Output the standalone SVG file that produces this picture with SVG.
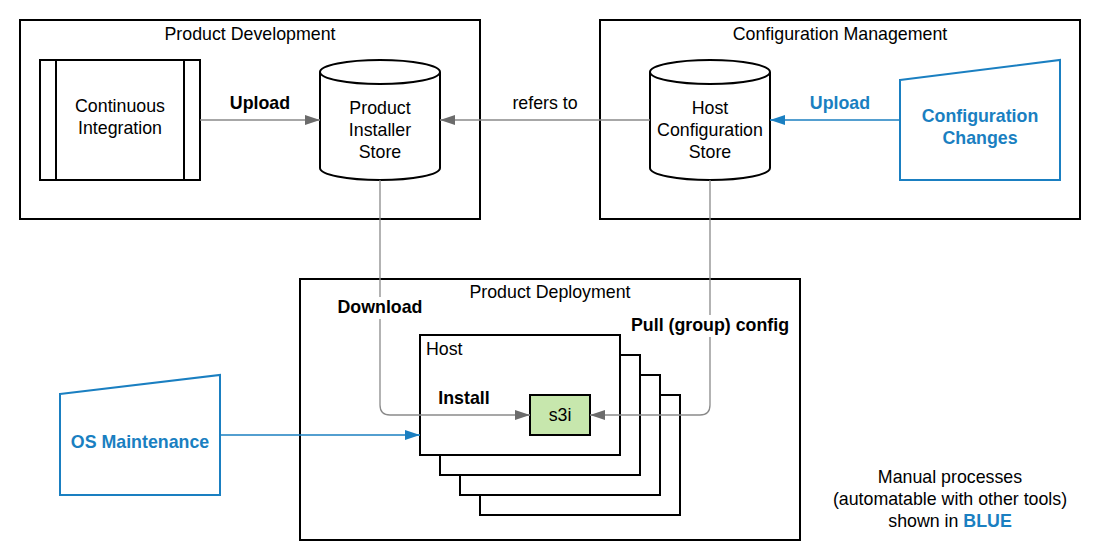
<svg xmlns="http://www.w3.org/2000/svg" width="1098" height="560" viewBox="0 0 1098 560">
<style>
text{font-family:"Liberation Sans",Arial,sans-serif;font-size:17.8px;fill:#000}
.c{text-anchor:middle}
.b{font-weight:bold}
.blue{fill:#1a7fc1}
.box{fill:#fff;stroke:#000;stroke-width:2}
.mshape{fill:#fff;stroke:#1a7fc1;stroke-width:2}
.line{fill:none;stroke:#8a8a8a;stroke-width:1.3}
.bline{fill:none;stroke:#1a7fc1;stroke-width:1.3}
.lbl{fill:#fff;stroke:none}
</style>
<defs>
<marker id="ag" markerUnits="userSpaceOnUse" markerWidth="16" markerHeight="10" refX="15" refY="5" orient="auto"><path d="M0,0 L15,5 L0,10 z" fill="#6b6b6b"/></marker>
<marker id="ab" markerUnits="userSpaceOnUse" markerWidth="16" markerHeight="10" refX="15" refY="5" orient="auto"><path d="M0,0 L15,5 L0,10 z" fill="#1a7fc1"/></marker>
</defs>
<rect width="1098" height="560" fill="#fff"/>

<g id="product-development">
<rect class="box" x="20" y="20" width="460" height="199"/>
<text class="c" x="250" y="40">Product Development</text>
</g>
<g id="configuration-management">
<rect class="box" x="600" y="20" width="480" height="199"/>
<text class="c" x="840" y="40">Configuration Management</text>
</g>
<g id="product-deployment">
<rect class="box" x="300" y="279" width="500" height="261"/>
<text class="c" x="550" y="298">Product Deployment</text>
</g>

<g id="continuous-integration">
<rect class="box" x="40" y="60" width="160" height="120"/>
<line x1="56" y1="60" x2="56" y2="180" stroke="#000" stroke-width="2"/>
<line x1="184" y1="60" x2="184" y2="180" stroke="#000" stroke-width="2"/>
<text class="c" x="120" y="112">Continuous</text>
<text class="c" x="120" y="134">Integration</text>
</g>

<g id="product-installer-store">
<path class="box" d="M320,72 a60,12 0 0,1 120,0 v96 a60,12 0 0,1 -120,0 z"/>
<path d="M320,72 a60,12 0 0,0 120,0" fill="none" stroke="#000" stroke-width="2"/>
<text class="c" x="380" y="114">Product</text>
<text class="c" x="380" y="136">Installer</text>
<text class="c" x="380" y="158">Store</text>
</g>

<g id="host-configuration-store">
<path class="box" d="M650,72 a60,12 0 0,1 120,0 v96 a60,12 0 0,1 -120,0 z"/>
<path d="M650,72 a60,12 0 0,0 120,0" fill="none" stroke="#000" stroke-width="2"/>
<text class="c" x="710" y="114">Host</text>
<text class="c" x="710" y="136">Configuration</text>
<text class="c" x="710" y="158">Store</text>
</g>

<g id="configuration-changes">
<path class="mshape" d="M900,80 L1060,60 L1060,180 L900,180 z"/>
<text class="c b blue" x="980" y="122">Configuration</text>
<text class="c b blue" x="980" y="144">Changes</text>
</g>

<g id="os-maintenance">
<path class="mshape" d="M60,394 L220,375 L220,495 L60,495 z"/>
<text class="c b blue" x="140" y="448">OS Maintenance</text>
</g>

<g id="hosts">
<rect class="box" x="480" y="395" width="200" height="120"/>
<rect class="box" x="460" y="375" width="200" height="120"/>
<rect class="box" x="440" y="355" width="200" height="120"/>
<rect class="box" x="420" y="335" width="200" height="120"/>
<text x="426" y="355">Host</text>
</g>

<g id="s3i">
<rect x="530" y="395" width="60" height="40" fill="#c7e7ad" stroke="#000" stroke-width="2"/>
<text class="c" x="560" y="421">s3i</text>
</g>

<g id="connectors">
<line class="line" x1="200" y1="120" x2="320" y2="120" marker-end="url(#ag)"/>
<line class="line" x1="650" y1="120" x2="440" y2="120" marker-end="url(#ag)"/>
<line class="bline" x1="900" y1="120" x2="770" y2="120" marker-end="url(#ab)"/>
<path class="line" d="M380,180 V405 Q380,415 390,415 H530" marker-end="url(#ag)"/>
<path class="line" d="M710,180 V405 Q710,415 700,415 H590" marker-end="url(#ag)"/>
<line class="bline" x1="220" y1="435" x2="420" y2="435" marker-end="url(#ab)"/>
<text class="c b" x="260" y="109">Upload</text>
<text class="c" x="545" y="109">refers to</text>
<text class="c b blue" x="840" y="109">Upload</text>
<rect class="lbl" x="336" y="297" width="88" height="22"/>
<text class="c b" x="380" y="313">Download</text>
<rect class="lbl" x="629" y="315" width="162" height="22"/>
<text class="c b" x="710" y="331">Pull (group) config</text>
<text class="c b" x="464" y="404">Install</text>
</g>

<g id="legend">
<text class="c" x="950" y="483">Manual processes</text>
<text class="c" x="950" y="505">(automatable with other tools)</text>
<text class="c" x="950" y="527">shown in <tspan class="b blue">BLUE</tspan></text>
</g>
</svg>
